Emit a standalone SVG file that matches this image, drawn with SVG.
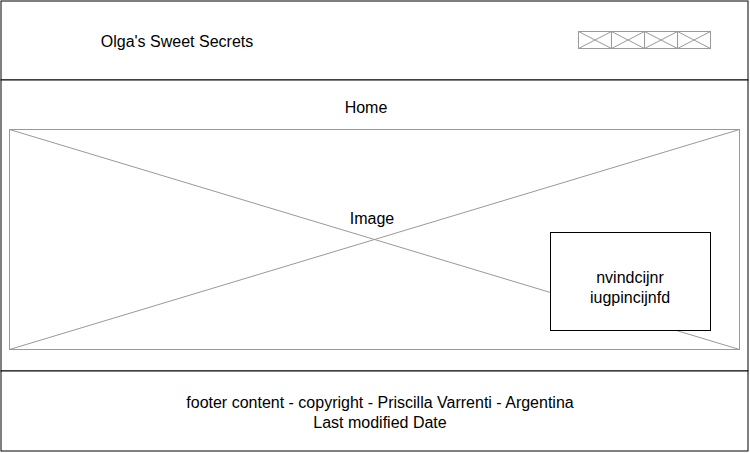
<svg xmlns="http://www.w3.org/2000/svg" width="750" height="453" viewBox="0 0 750 453">
<style>
.frame{fill:#fff;stroke:#000;stroke-width:1}
.ph{fill:none;stroke:#999;stroke-width:1}
text{font-family:"Liberation Sans",Arial,sans-serif;font-size:16px;fill:#000;text-anchor:middle}
</style>
<rect width="750" height="453" fill="#fff"/>
<g id="header">
<rect class="frame" x="1" y="1" width="747" height="79"/>
<text x="177" y="47">Olga's Sweet Secrets</text>
</g>
<g id="nav-icons">
<rect class="ph" x="578.5" y="31.5" width="33" height="17"/>
<path class="ph" d="M578.5 31.5L611.5 48.5M611.5 31.5L578.5 48.5"/>
<rect class="ph" x="611.5" y="31.5" width="33" height="17"/>
<path class="ph" d="M611.5 31.5L644.5 48.5M644.5 31.5L611.5 48.5"/>
<rect class="ph" x="644.5" y="31.5" width="33" height="17"/>
<path class="ph" d="M644.5 31.5L677.5 48.5M677.5 31.5L644.5 48.5"/>
<rect class="ph" x="677.5" y="31.5" width="33" height="17"/>
<path class="ph" d="M677.5 31.5L710.5 48.5M710.5 31.5L677.5 48.5"/>
</g>
<g id="body">
<rect class="frame" x="1" y="80" width="747" height="291"/>
<text x="366" y="113">Home</text>
</g>
<g id="image">
<rect class="ph" x="9.5" y="129.5" width="730" height="220"/>
<path class="ph" d="M9.5 129.5L739.5 349.5M739.5 129.5L9.5 349.5"/>
<text x="372" y="224">Image</text>
</g>
<g id="caption-box">
<rect class="frame" x="550.5" y="232.5" width="160" height="98"/>
<text x="630" y="283">nvindcijnr</text>
<text x="630" y="303">iugpincijnfd</text>
</g>
<g id="footer">
<rect class="frame" x="1" y="371" width="747" height="80"/>
<text x="380" y="408">footer content - copyright - Priscilla Varrenti - Argentina</text>
<text x="380" y="428">Last modified Date</text>
</g>
<g id="connectors"></g>
</svg>
